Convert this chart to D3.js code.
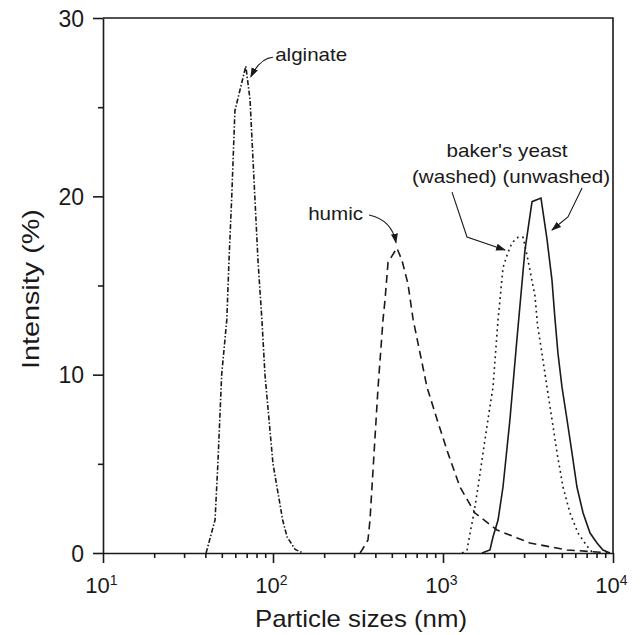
<!DOCTYPE html>
<html>
<head>
<meta charset="utf-8">
<script src="https://cdn.jsdelivr.net/npm/d3@7"></script>
<style>
  html, body { margin: 0; padding: 0; background: #fff; }
  svg text { font-family: "Liberation Sans", Arial, sans-serif; fill: #1a1a1a; }
</style>
</head>
<body>
<div id="diagram"></div>
<script>
// data: [particle size (nm), intensity (%)]
const alginate = [
  [40.4, 0], [45.6, 1.85], [47.4, 5], [49.9, 10], [53.5, 13.1], [55.1, 16.4],
  [57.2, 20], [59.7, 24.8], [69.2, 27.3], [73.3, 25.4], [81.6, 16.4], [86, 13.1],
  [89.7, 10], [100, 5], [114, 1.85], [121, 0.9], [135, 0.2], [150, 0]
];
const humic = [
  [325, 0], [334, 0.17], [362, 0.73], [372, 1.85], [393, 5.6], [415, 9.3],
  [444, 13.1], [456, 14.2], [475, 16.3], [536, 17.1], [574, 16.4], [622, 15.1],
  [667, 13.1], [733, 11.2], [805, 9.3], [922, 7.5], [1070, 5.6], [1259, 3.7],
  [1543, 2.24], [2078, 1.29], [3250, 0.56], [5360, 0.17], [9220, 0.02]
];
const yeastWashed = [
  [1294, 0], [1384, 0.17], [1442, 1.1], [1521, 2.24], [1607, 3.7], [1719, 5.6],
  [1840, 7.5], [1968, 9.3], [2108, 13.1], [2163, 14.2], [2254, 16], [2400, 16.8],
  [2547, 17.4], [2762, 17.7], [2958, 17.7], [3120, 16.7], [3477, 14.4], [3597, 12.8],
  [3819, 11.2], [4090, 9.3], [4375, 7.5], [4688, 5.6], [5081, 3.7], [5585, 2.24],
  [6223, 1.12], [7030, 0.39], [7620, 0]
];
const yeastUnwashed = [
  [1695, 0], [1889, 0.17], [1968, 0.9], [2108, 1.85], [2254, 3.7], [2477, 7.5],
  [2723, 12], [3036, 17], [3340, 19.7], [3770, 19.9], [4090, 17.6], [4375, 15.3],
  [4560, 13.1], [4745, 11.2], [5012, 9.3], [5360, 7.5], [5741, 5.6], [6138, 3.7],
  [6668, 2.24], [7328, 1.12], [8054, 0.56], [8730, 0.17], [9600, 0]
];

const xMajorTicks = [10, 100, 1000, 10000];
const yMajorTicks = [0, 10, 20, 30];
const yMinorTicks = [5, 15, 25];
const labels = ['alginate', 'humic', "baker's yeast", '(washed) (unwashed)'];

!(function () {
  'use strict';
  // - - - - - - - - - -
  let
    canvas = undefined,
    svg = undefined,
    xScale = undefined,
    yScale = undefined,
    line = undefined,
    xMinorTicks = undefined,

    setCanvas = undefined,
    setScales = undefined,
    setAxes = undefined,
    setSeries = undefined,
    setLabels = undefined,
    pt = undefined;

  canvas = {
    width: 644,
    height: 635,
    padding: { top: 18, right: 31, bottom: 82, left: 103 }
  };

  xMinorTicks = [];
  xMajorTicks.slice(0, -1).forEach(function (m) {
    for (let k = 2; k < 10; k++) xMinorTicks.push(m * k);
  });

  setCanvas = function (contextSelector) {
    svg = d3.select(contextSelector)
      .append('svg')
      .attr('width', canvas.width)
      .attr('height', canvas.height);
  };

  setScales = function () {
    xScale = d3.scaleLog()
      .domain([10, 10000])
      .range([canvas.padding.left, canvas.width - canvas.padding.right]);
    yScale = d3.scaleLinear()
      .domain([0, 30])
      .range([canvas.height - canvas.padding.bottom, canvas.padding.top]);
    line = d3.line()
      .x(function (d) { return xScale(d[0]); })
      .y(function (d) { return yScale(d[1]); });
    pt = function (s, v) { return [xScale(s), yScale(v)]; };
  };

  setAxes = function () {
    let
      ty = canvas.height - canvas.padding.bottom,
      tx = canvas.padding.left,
      gx = undefined,
      gy = undefined;

    // minor ticks
    svg.append('g')
      .attr('transform', 'translate(0, ' + ty + ')')
      .call(d3.axisBottom(xScale).tickValues(xMinorTicks).tickSize(5).tickFormat(''))
      .call(function (g) { g.select('.domain').remove(); });
    svg.append('g')
      .attr('transform', 'translate(' + tx + ', 0)')
      .call(d3.axisLeft(yScale).tickValues(yMinorTicks).tickSize(5).tickFormat(''))
      .call(function (g) { g.select('.domain').remove(); });

    gx = svg.append('g')
      .attr('transform', 'translate(0, ' + ty + ')')
      .call(d3.axisBottom(xScale).tickValues(xMajorTicks).tickSize(10).tickSizeOuter(0).tickFormat(''));
    gx.selectAll('.tick').append('text')
      .attr('y', 40)
      .attr('x', -2)
      .attr('text-anchor', 'middle')
      .attr('font-size', 22)
      .call(function (t) {
        t.append('tspan').text('10');
        t.append('tspan').attr('dy', -8).attr('font-size', 14).text(function (d) { return Math.round(Math.log10(d)); });
      });

    gy = svg.append('g')
      .attr('transform', 'translate(' + tx + ', 0)')
      .call(d3.axisLeft(yScale).tickValues(yMajorTicks).tickSize(10).tickSizeOuter(0).tickPadding(9));
    gy.selectAll('.tick text').attr('font-size', 23).attr('dy', '0.36em');

    svg.selectAll('.tick line, .domain').attr('stroke', '#1a1a1a').attr('stroke-width', 1.6);

    // top and right frame
    svg.append('path')
      .attr('d', 'M' + xScale(10) + ',' + yScale(30) + 'H' + xScale(10000) + 'V' + yScale(0))
      .attr('fill', 'none')
      .attr('stroke', '#1a1a1a')
      .attr('stroke-width', 1.6);

    svg.append('text')
      .attr('transform', 'translate(39, ' + yScale(14.8) + ') rotate(-90)')
      .attr('text-anchor', 'middle')
      .attr('font-size', 24)
      .attr('textLength', 160)
      .attr('lengthAdjust', 'spacingAndGlyphs')
      .text('Intensity (%)');

    svg.append('text')
      .attr('x', 361)
      .attr('y', 627)
      .attr('text-anchor', 'middle')
      .attr('font-size', 24)
      .attr('textLength', 212)
      .attr('lengthAdjust', 'spacingAndGlyphs')
      .text('Particle sizes (nm)');
  };

  setSeries = function () {
    let series = [
      { data: alginate, dash: '5,2,1.5,2' },
      { data: humic, dash: '8,5' },
      { data: yeastWashed, dash: '1.8,3.6' },
      { data: yeastUnwashed, dash: null }
    ];
    svg.append('g').selectAll('path')
      .data(series)
      .join('path')
      .attr('d', function (d) { return line(d.data); })
      .attr('fill', 'none')
      .attr('stroke', '#1a1a1a')
      .attr('stroke-width', 1.6)
      .attr('stroke-dasharray', function (d) { return d.dash; });
  };

  setLabels = function () {
    let defs = svg.append('defs');
    defs.append('marker')
      .attr('id', 'arrow')
      .attr('viewBox', '0 0 10 10')
      .attr('refX', 9)
      .attr('refY', 5)
      .attr('markerWidth', 10)
      .attr('markerHeight', 10)
      .attr('markerUnits', 'userSpaceOnUse')
      .attr('orient', 'auto')
      .append('path')
      .attr('d', 'M0,1.5 L10,5 L0,8.5 Z')
      .attr('fill', '#1a1a1a');

    let texts = [
      { t: labels[0], p: pt(103, 27.6), a: 'start', w: 72 },
      { t: labels[1], p: pt(161, 18.7), a: 'start', w: 55 },
      { t: labels[2], p: pt(2378, 22.2), a: 'middle', w: 121 },
      { t: labels[3], p: pt(2512, 20.75), a: 'middle', w: 198 }
    ];
    svg.append('g').selectAll('text')
      .data(texts)
      .join('text')
      .attr('x', function (d) { return d.p[0]; })
      .attr('y', function (d) { return d.p[1]; })
      .attr('text-anchor', function (d) { return d.a; })
      .attr('font-size', 19)
      .attr('textLength', function (d) { return d.w; })
      .attr('lengthAdjust', 'spacingAndGlyphs')
      .text(function (d) { return d.t; });

    let arrows = [
      [pt(100, 27.8), pt(84, 27.75), pt(74, 26.7)],
      [pt(367, 18.95), pt(501, 18.67), pt(529, 17.4)],
      [pt(1130, 20.24), pt(1384, 17.72), pt(2316, 16.99)],
      [pt(6577, 20.47), pt(5433, 18.84), pt(4375, 18.11)]
    ];
    let curve = function (a, i) {
      if (i < 2) return 'M' + a[0] + 'Q' + a[1] + ' ' + a[2];
      return 'M' + a[0] + 'L' + a[1] + 'L' + a[2];
    };
    svg.append('g').selectAll('path')
      .data(arrows)
      .join('path')
      .attr('d', curve)
      .attr('fill', 'none')
      .attr('stroke', '#1a1a1a')
      .attr('stroke-width', 1.1)
      .attr('marker-end', 'url(#arrow)');
  };

  setCanvas('#diagram');
  setScales();
  setSeries();
  setAxes();
  setLabels();
  // - - - - - - - - - -
}());
</script>
</body>
</html>
